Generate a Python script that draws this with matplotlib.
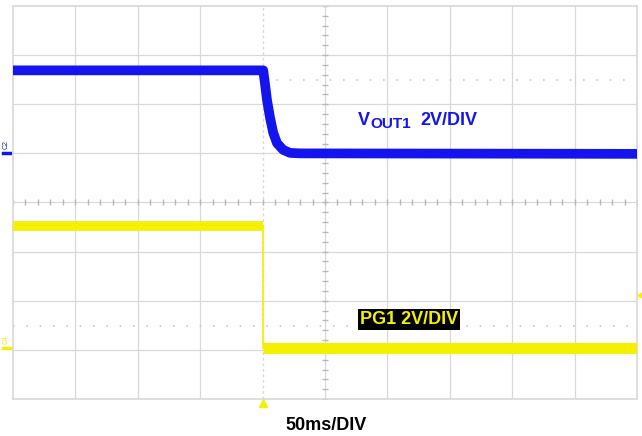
import numpy as np
import matplotlib.pyplot as plt

# scope screen in divisions: 10 x 8, centre = (0, 0)
# VOUT1 trace (C2)
vout_t = [-5.0, -0.99, -0.96, -0.93, -0.88, -0.83, -0.77, -0.67, -0.56, -0.40, 5.0]
vout_v = [2.69, 2.69, 2.40, 2.09, 1.72, 1.42, 1.21, 1.07, 1.01, 1.00, 0.99]

# PG1 trace (C4)
pg_t = [-5.0, -0.99, -0.99, 5.0]
pg_v = [-0.48, -0.48, -2.96, -2.96]

blue = '#1414ee'
yellow = '#f4f000'
grid_c = '#d8d8d8'

plt.rcParams['font.family'] = ['Liberation Sans', 'DejaVu Sans']

fig = plt.figure(figsize=(6.42, 4.36), dpi=100)
ax = fig.add_axes([13 / 642, 37 / 436, 624 / 642, 393 / 436])
ax.set_xlim(-5, 5)
ax.set_ylim(-4, 4)
ax.set_xticks([])
ax.set_yticks([])
for s in ax.spines.values():
    s.set_color(grid_c)
    s.set_linewidth(1.2)

# graticule
for x in range(-4, 5):
    if x == -1:
        continue
    ax.axvline(x, color=grid_c, lw=0.9, zorder=1)
for y in range(-3, 4):
    ax.axhline(y, color=grid_c, lw=0.9, zorder=1)
# trigger position (dotted)
ax.axvline(-1, color=grid_c, lw=1.0, ls=(0, (2, 2)), zorder=1)
# dotted reference levels
ax.plot([-1, 5], [2.49, 2.49], color='#c8c8c8', lw=1.2, ls=(0, (1, 7)), zorder=1)
ax.plot([-5, 5], [-2.52, -2.52], color='#c8c8c8', lw=1.2, ls=(0, (1, 7)), zorder=1)

# minor ticks on centre axes
minor = np.arange(-5, 5.01, 0.2)
ax.plot(minor, np.zeros_like(minor), ls='none', marker='|', ms=4, color='#b8b8b8', mew=1, zorder=1)
minor_y = np.arange(-4, 4.01, 0.2)
ax.plot(np.zeros_like(minor_y), minor_y, ls='none', marker='_', ms=4, color='#b8b8b8', mew=1, zorder=1)

# traces
ax.plot(vout_t, vout_v, color=blue, lw=7, solid_joinstyle='round', zorder=3)
ax.plot(pg_t[:2], pg_v[:2], color=yellow, lw=7, solid_capstyle='butt', zorder=3)
ax.plot(pg_t[1:3], pg_v[1:3], color=yellow, lw=1.2, zorder=3)
ax.plot(pg_t[2:], pg_v[2:], color=yellow, lw=8, solid_capstyle='butt', zorder=3)

# channel markers on the left
ax.plot([-5.16, -5.05], [1.0, 1.0], color=blue, lw=2.5, clip_on=False)
ax.text(-5.11, 1.08, 'C2', color=blue, fontsize=5, rotation=90, ha='center', va='bottom', clip_on=False)
ax.plot([-5.16, -5.05], [-2.96, -2.96], color=yellow, lw=2.5, clip_on=False)
ax.text(-5.11, -2.88, 'C4', color=yellow, fontsize=5, rotation=90, ha='center', va='bottom', clip_on=False)

# trigger marker and level marker
ax.plot([-0.99], [-4.09], marker='^', ms=6, color=yellow, clip_on=False)
ax.plot([5.05], [-1.88], marker='<', ms=5, color=yellow, clip_on=False)

# labels
ax.text(0.53, 1.58, 'V', color=blue, fontsize=13, fontweight='bold', va='baseline')
ax.text(0.73, 1.517, 'OUT1', color=blue, fontsize=11, fontweight='bold', va='baseline')
ax.text(1.522, 1.58, '2V/DIV', color=blue, fontsize=13, fontweight='bold', va='baseline')

ax.text(0.56, -2.475, 'PG1 2V/DIV', color=yellow, fontsize=13, fontweight='bold', va='baseline',
        bbox=dict(boxstyle='square,pad=0.1', facecolor='black', edgecolor='none'))

ax.text(-0.64, -4.63, '50ms/DIV', color='black', fontsize=13, fontweight='bold', va='baseline', clip_on=False)

fig.savefig('out.png', dpi=100)
